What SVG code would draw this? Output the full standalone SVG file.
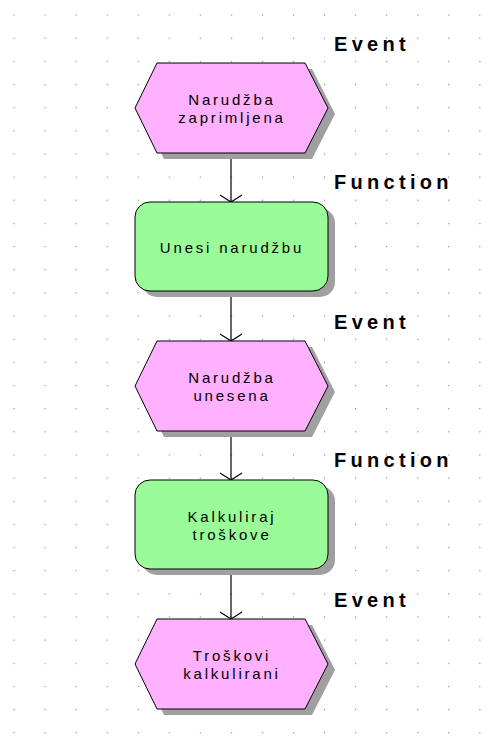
<svg xmlns="http://www.w3.org/2000/svg" width="503" height="753" viewBox="0 0 503 753">
<style>
.ev{fill:#FFB0FF;stroke:#000;stroke-width:1}
.fn{fill:#99FC99;stroke:#000;stroke-width:1}
.sh{fill:#A0A0A0}
.nt{font-family:"Liberation Sans",Arial,sans-serif;font-size:15px;letter-spacing:2.8px;text-anchor:middle;fill:#000}
.lb{font-family:"Liberation Sans",Arial,sans-serif;font-size:20px;font-weight:bold;letter-spacing:4.3px;fill:#000}
.cn{stroke:#000;stroke-width:1.2;fill:none}
</style>
<defs>
<pattern id="grid" patternUnits="userSpaceOnUse" x="13.5" y="14.5" width="31.05" height="23.15">
<rect x="0" y="0" width="1.2" height="1.2" fill="#8a8a8a"/>
</pattern>
<marker id="arr" markerUnits="userSpaceOnUse" viewBox="-9 -12 10 24" refX="0" refY="0" markerWidth="10" markerHeight="24" orient="auto" overflow="visible">
<path d="M-7,-11 L0,0 L-7,11" fill="none" stroke="#000" stroke-width="1.2"/>
</marker>
</defs>
<rect width="503" height="753" fill="#fff"/>
<rect width="503" height="753" fill="url(#grid)"/>

<g id="labels">
<text class="lb" x="334" y="51">Event</text>
<text class="lb" x="334" y="189">Function</text>
<text class="lb" x="334" y="329">Event</text>
<text class="lb" x="334" y="467">Function</text>
<text class="lb" x="334" y="607">Event</text>
</g>

<g id="connectors">
<line class="cn" x1="231" y1="153" x2="231" y2="202" marker-end="url(#arr)"/>
<line class="cn" x1="231" y1="291" x2="231" y2="341" marker-end="url(#arr)"/>
<line class="cn" x1="231" y1="431" x2="231" y2="480" marker-end="url(#arr)"/>
<line class="cn" x1="231" y1="569" x2="231" y2="619" marker-end="url(#arr)"/>
</g>

<g id="event1">
<polygon class="sh" points="142,114 164,69 312,69 335,114 312,159 164,159"/>
<polygon class="ev" points="135,108 157,63 305,63 328,108 305,153 157,153"/>
<text class="nt" x="232" y="105">Narudžba</text>
<text class="nt" x="232" y="123">zaprimljena</text>
</g>

<g id="function1">
<rect class="sh" x="142" y="208" width="193" height="89" rx="15"/>
<rect class="fn" x="135" y="202" width="193" height="89" rx="15"/>
<text class="nt" x="232" y="253">Unesi narudžbu</text>
</g>

<g id="event2">
<polygon class="sh" points="142,392 164,347 312,347 335,392 312,437 164,437"/>
<polygon class="ev" points="135,386 157,341 305,341 328,386 305,431 157,431"/>
<text class="nt" x="232" y="383">Narudžba</text>
<text class="nt" x="232" y="401">unesena</text>
</g>

<g id="function2">
<rect class="sh" x="142" y="486" width="193" height="89" rx="15"/>
<rect class="fn" x="135" y="480" width="193" height="89" rx="15"/>
<text class="nt" x="232" y="522">Kalkuliraj</text>
<text class="nt" x="232" y="540">troškove</text>
</g>

<g id="event3">
<polygon class="sh" points="142,670 164,625 312,625 335,670 312,715 164,715"/>
<polygon class="ev" points="135,664 157,619 305,619 328,664 305,709 157,709"/>
<text class="nt" x="232" y="661">Troškovi</text>
<text class="nt" x="232" y="679">kalkulirani</text>
</g>
</svg>
